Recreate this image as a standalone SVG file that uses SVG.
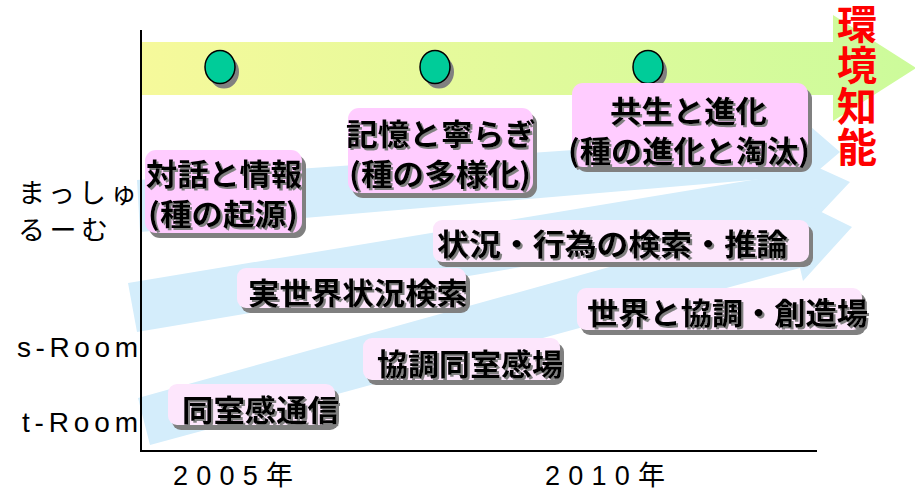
<svg xmlns="http://www.w3.org/2000/svg" width="915" height="493" viewBox="0 0 915 493">
<defs>
<linearGradient id="yg" gradientUnits="userSpaceOnUse" x1="142" y1="0" x2="916" y2="0">
<stop offset="0" stop-color="#f6f99b"/>
<stop offset="1" stop-color="#ccfb9b"/>
</linearGradient>
<filter id="ts" x="-5%" y="-20%" width="115%" height="150%">
<feFlood flood-color="#808080"/>
<feComposite in2="SourceAlpha" operator="in"/>
<feOffset dx="2" dy="2" result="s"/>
<feMerge><feMergeNode in="s"/><feMergeNode in="SourceGraphic"/></feMerge>
</filter>
</defs>
<style>
.flow{fill:#d4edfb;stroke:none}
.shadow{fill:#808080}
.boxA{fill:#ffccff}
.boxB{fill:#fde6fc}
.lbl{font-family:"Noto Sans CJK JP","Liberation Sans",sans-serif;font-size:30px;font-weight:bold;fill:#000;filter:url(#ts)}
.ax{font-family:"Liberation Sans","Noto Sans CJK JP",sans-serif;font-size:28px;fill:#000}
.yr{font-family:"Liberation Sans","Noto Sans CJK JP",sans-serif;font-size:27px;fill:#000}
.axj{font-family:"Noto Sans CJK JP","Liberation Sans",sans-serif;font-size:27px;fill:#000}
.dot{fill:#00cc99;stroke:#000;stroke-width:1.5}
.dotsh{fill:#808080}
</style>
<rect width="915" height="493" fill="#fff"/>

<g id="env-arrow">
<polygon points="142,42 833,42 833,15 916,68 833,121 833,95 142,95" fill="url(#yg)"/>
</g>

<g id="connectors">
<polygon class="flow" points="137,180 806,134 803,120 840,152 800,186 800,176 140,232"/>
<polygon class="flow" points="128,283 800,172 797,158 850,182 803,232 800,220 137,332"/>
<polygon class="flow" points="138,398 800,214 797,200 852,227 803,281 800,268 150,445"/>
</g>

<g id="axes" stroke="#000" stroke-width="2" fill="none">
<line x1="141" y1="30" x2="141" y2="452"/>
<line x1="140" y1="451" x2="817" y2="451"/>
</g>

<g id="milestone1">
<ellipse class="dotsh" cx="224" cy="72" rx="15" ry="16.5"/>
<ellipse class="dot" cx="220" cy="67" rx="15" ry="16.5"/>
</g>
<g id="milestone2">
<ellipse class="dotsh" cx="439" cy="72" rx="15" ry="16.5"/>
<ellipse class="dot" cx="435" cy="67" rx="15" ry="16.5"/>
</g>
<g id="milestone3">
<ellipse class="dotsh" cx="652" cy="72" rx="15" ry="16.5"/>
<ellipse class="dot" cx="648" cy="67" rx="15" ry="16.5"/>
</g>

<g id="node-taiwa">
<rect class="shadow" x="149" y="155" width="157" height="83" rx="11"/>
<rect class="boxA" x="145" y="150" width="157" height="83" rx="11"/>
<text class="lbl"><tspan x="146" y="185" textLength="156" lengthAdjust="spacingAndGlyphs">対話と情報</tspan><tspan x="148" y="225" textLength="150" lengthAdjust="spacingAndGlyphs">(種の起源)</tspan></text>
</g>

<g id="node-kioku">
<rect class="shadow" x="352" y="113" width="185" height="85" rx="11"/>
<rect class="boxA" x="348" y="108" width="185" height="85" rx="11"/>
<text class="lbl"><tspan x="346" y="145" textLength="190" lengthAdjust="spacingAndGlyphs">記憶と寧らぎ</tspan><tspan x="349" y="185" textLength="182" lengthAdjust="spacingAndGlyphs">(種の多様化)</tspan></text>
</g>

<g id="node-kyosei">
<rect class="shadow" x="576" y="88" width="236" height="84" rx="11"/>
<rect class="boxA" x="572" y="83" width="236" height="84" rx="11"/>
<text class="lbl"><tspan x="610" y="122" textLength="157" lengthAdjust="spacingAndGlyphs">共生と進化</tspan><tspan x="568" y="162" textLength="242" lengthAdjust="spacingAndGlyphs">(種の進化と淘汰)</tspan></text>
</g>

<g id="node-jokyo">
<rect class="shadow" x="437" y="225" width="376" height="42" rx="9"/>
<rect class="boxB" x="433" y="220" width="376" height="42" rx="9"/>
<text class="lbl" x="437" y="255" textLength="351" lengthAdjust="spacingAndGlyphs">状況・行為の検索・推論</text>
</g>

<g id="node-jitsusekai">
<rect class="shadow" x="241" y="273" width="229" height="40" rx="9"/>
<rect class="boxB" x="237" y="268" width="229" height="40" rx="9"/>
<text class="lbl" x="248" y="304" textLength="220" lengthAdjust="spacingAndGlyphs">実世界状況検索</text>
</g>

<g id="node-sekai">
<rect class="shadow" x="581" y="293" width="285" height="42" rx="9"/>
<rect class="boxB" x="577" y="288" width="285" height="42" rx="9"/>
<text class="lbl" x="587" y="324" textLength="281" lengthAdjust="spacingAndGlyphs">世界と協調・創造場</text>
</g>

<g id="node-kyocho">
<rect class="shadow" x="367" y="343" width="197" height="42" rx="9"/>
<rect class="boxB" x="363" y="338" width="197" height="42" rx="9"/>
<text class="lbl" x="377" y="375" textLength="186" lengthAdjust="spacingAndGlyphs">協調同室感場</text>
</g>

<g id="node-doshitsu">
<rect class="shadow" x="172" y="389" width="167" height="41" rx="9"/>
<rect class="boxB" x="168" y="384" width="167" height="41" rx="9"/>
<text class="lbl" x="182" y="421" textLength="157" lengthAdjust="spacingAndGlyphs">同室感通信</text>
</g>

<g id="label-kankyo">
<text x="857" y="4" writing-mode="vertical-rl" font-family="Noto Sans CJK JP, sans-serif" font-size="40" font-weight="bold" fill="#ff0000" letter-spacing="1">環境知能</text>
</g>

<g id="y-labels">
<text class="axj" x="18" y="203" textLength="119" lengthAdjust="spacing">まっしゅ</text>
<text class="axj" x="18" y="240" textLength="90" lengthAdjust="spacing">るーむ</text>
<text class="ax" x="17" y="357" textLength="121" lengthAdjust="spacing">s-Room</text>
<text class="ax" x="22" y="432" textLength="116" lengthAdjust="spacing">t-Room</text>
</g>

<g id="x-labels">
<text class="yr" x="173" y="485" textLength="120" lengthAdjust="spacing">2005年</text>
<text class="yr" x="545" y="485" textLength="120" lengthAdjust="spacing">2010年</text>
</g>
</svg>
